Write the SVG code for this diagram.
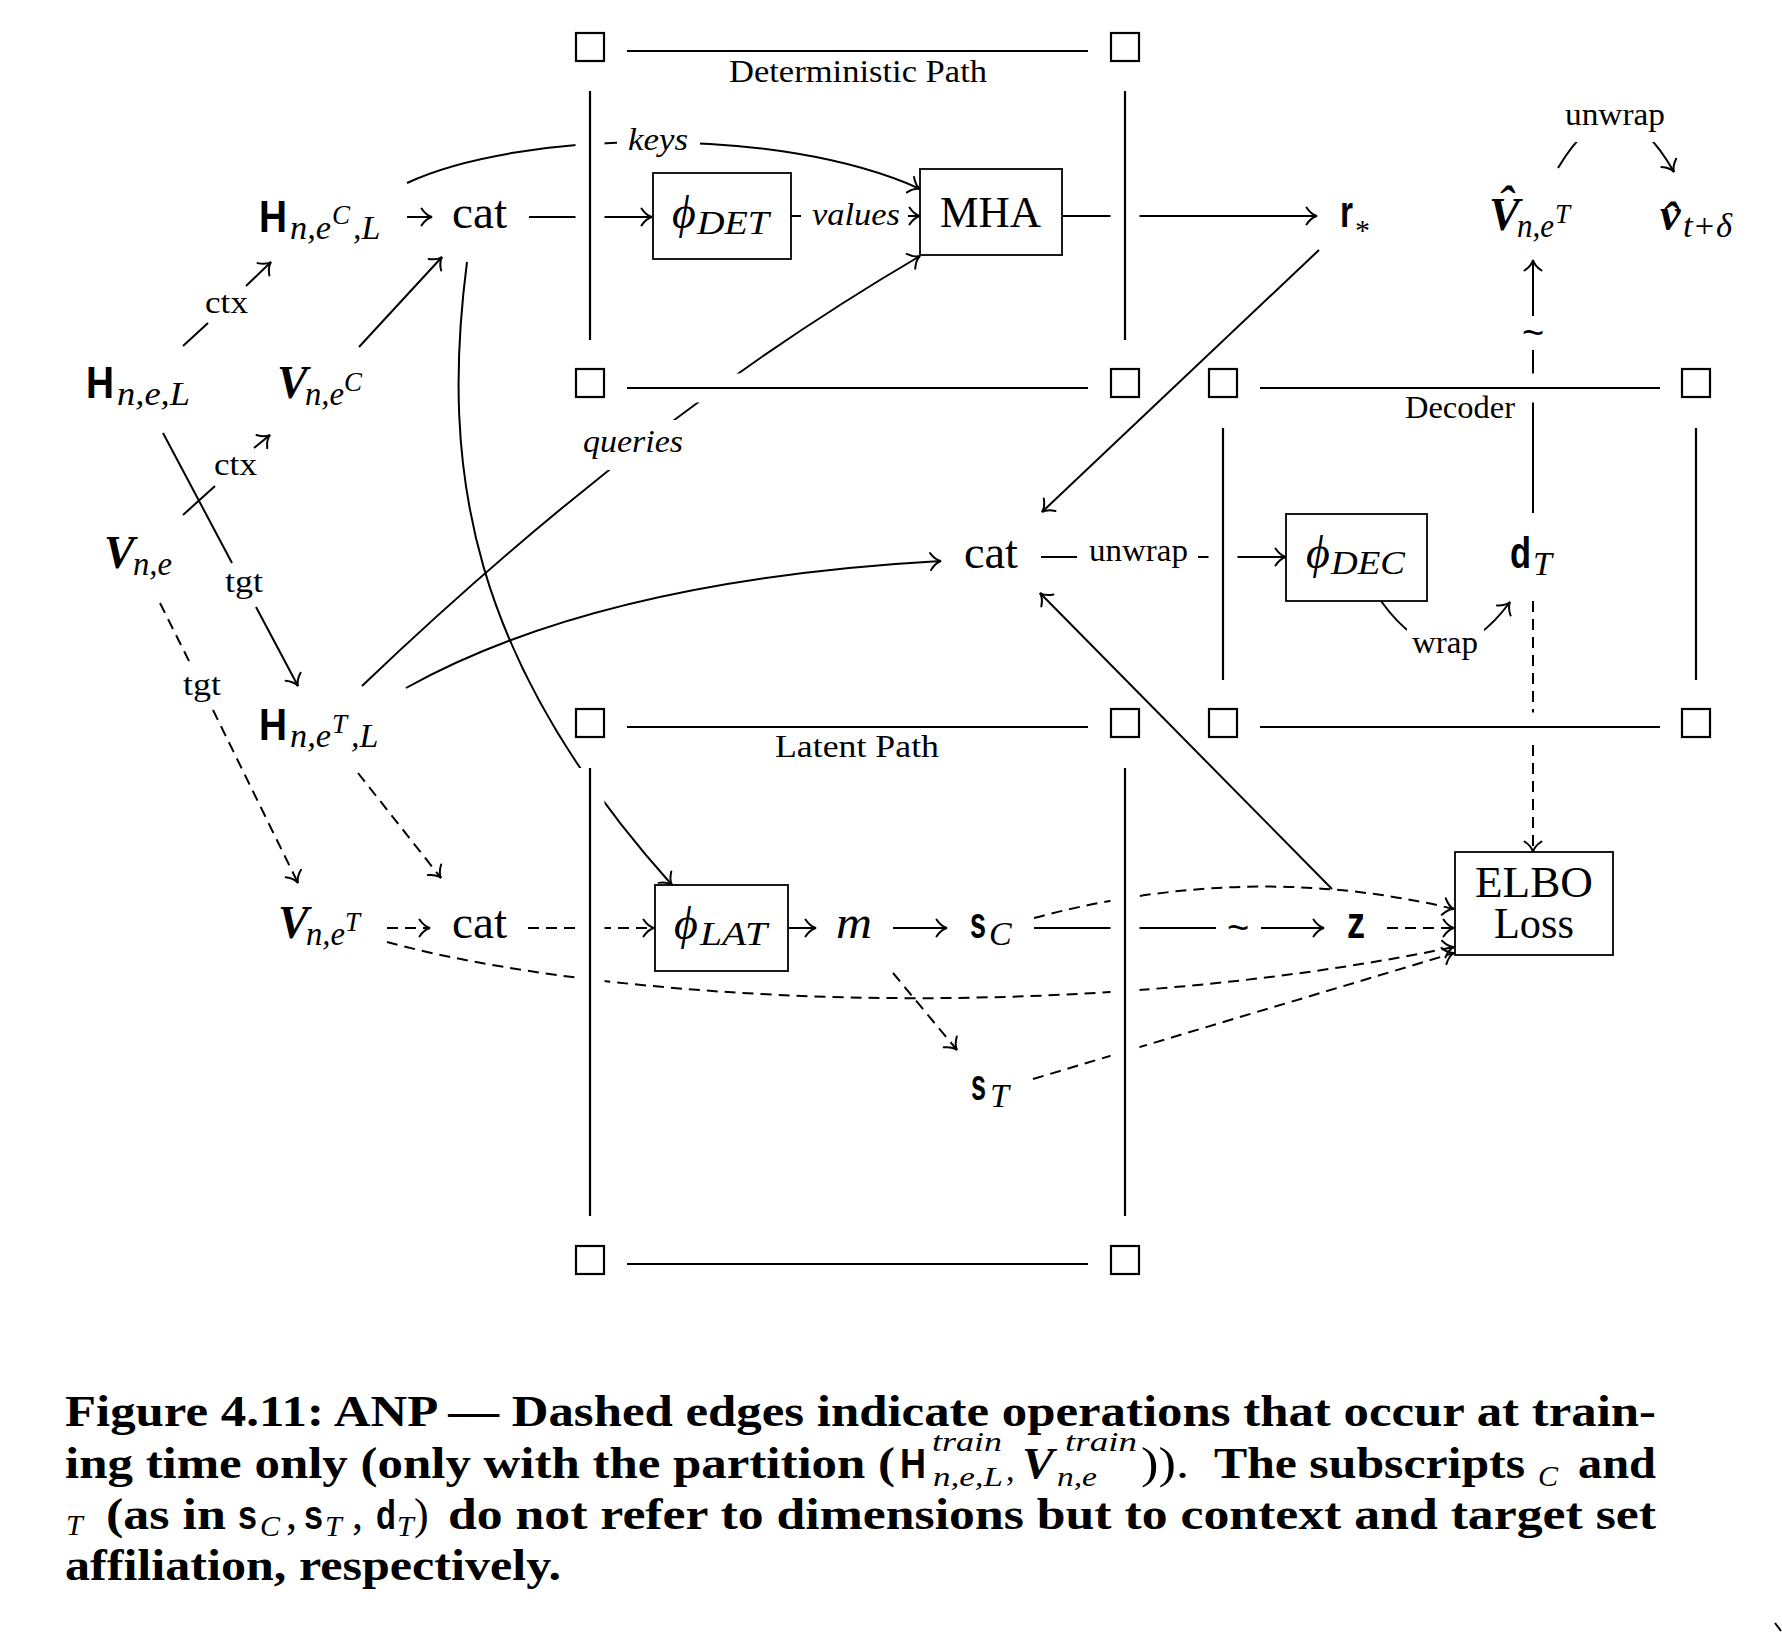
<svg xmlns="http://www.w3.org/2000/svg" width="1782" height="1632" viewBox="0 0 1782 1632">
<defs>
<style>
.e{fill:none;stroke:#000;stroke-width:2}
.d{stroke-dasharray:11 7}
.h{fill:none;stroke:#fff;stroke-width:29}
.pl{fill:none;stroke:#000;stroke-width:2.2}
.sq{fill:#fff;stroke:#000;stroke-width:2.2}
.bx{fill:#fff;stroke:#000;stroke-width:1.8}
.bg{fill:#fff;stroke:none}
text{font-family:'Liberation Serif','DejaVu Serif',serif;fill:#000}
.rm{font-size:46px}
.lb{font-size:32px}
.it{font-style:italic}
.bs{font-family:'Liberation Sans','DejaVu Sans',sans-serif;font-weight:bold;font-size:44px}
.bv{font-weight:bold;font-style:italic;font-size:46px}
.sb{font-style:italic;font-size:34px}
.sp{font-style:italic;font-size:27px}
.cap{font-weight:bold;font-size:44px}
.tl{font-family:'Liberation Sans',sans-serif;font-size:38px}
</style>
<marker id="a" viewBox="0 0 14 20" refX="12" refY="10" markerWidth="14" markerHeight="20" markerUnits="userSpaceOnUse" orient="auto"><path d="M1.5,1.5 C4.5,6 8,9 12,10 C8,11 4.5,14 1.5,18.5" fill="none" stroke="#000" stroke-width="2" stroke-dasharray="none" stroke-linecap="round"/></marker>
</defs>
<rect width="1782" height="1632" fill="#fff"/>

<g id="connectors">
<path class="e" d="M183,346 L208,323"/>
<path class="e" d="M246,286 L271,262" marker-end="url(#a)"/>
<path class="e" d="M183,515 L215,486"/>
<path class="e" d="M254,448 L270,435" marker-end="url(#a)"/>
<path class="e" d="M163,433 L232,563"/>
<path class="e" d="M256,607 L298,686" marker-end="url(#a)"/>
<path class="e d" d="M160,603 L192,667"/>
<path class="e d" d="M213,710 L298,883" marker-end="url(#a)"/>
<path class="e" d="M407,217 L432,217" marker-end="url(#a)"/>
<path class="e" d="M359,347 L442,257" marker-end="url(#a)"/>
<path class="e" d="M529,217 L652,217" marker-end="url(#a)"/>
<path class="e" d="M407,183 C520,130 780,125 920,189" marker-end="url(#a)"/>
<path class="e" d="M791,216 L801,216"/>
<path class="e" d="M908,216 L920,216" marker-end="url(#a)"/>
<path class="e" d="M362,686 Q640,420 920,256" marker-end="url(#a)"/>
<path class="e" d="M1063,216 L1317,216" marker-end="url(#a)"/>
<path class="e" d="M1319,250 L1042,512" marker-end="url(#a)"/>
<path class="e" d="M406,688 Q600,580 941,561" marker-end="url(#a)"/>
<path class="e" d="M467,262 C440,470 470,660 672,885" marker-end="url(#a)"/>
<path class="e" d="M1041,557 L1077,557"/>
<path class="e" d="M1198,557 L1286,557" marker-end="url(#a)"/>
<path class="e" d="M1381,601 Q1445,690 1510,602" marker-end="url(#a)"/>
<path class="e" d="M1533,513 L1533,350"/>
<path class="e" d="M1533,316 L1533,260" marker-end="url(#a)"/>
<path class="e" d="M1558,168 Q1616,70 1674,172" marker-end="url(#a)"/>
<path class="e d" d="M1533,601 L1533,852" marker-end="url(#a)"/>
<path class="e d" d="M358,773 L441,878" marker-end="url(#a)"/>
<path class="e d" d="M387,928 L430,928" marker-end="url(#a)"/>
<path class="e d" d="M528,928 L654,928" marker-end="url(#a)"/>
<path class="e" d="M788,928 L816,928" marker-end="url(#a)"/>
<path class="e" d="M893,928 L947,928" marker-end="url(#a)"/>
<path class="e d" d="M893,973 L957,1050" marker-end="url(#a)"/>
<path class="e" d="M1034,928 L1216,928"/>
<path class="e" d="M1261,928 L1324,928" marker-end="url(#a)"/>
<path class="e d" d="M1387,928 L1454,928" marker-end="url(#a)"/>
<path class="e d" d="M1034,918 Q1250,860 1454,909" marker-end="url(#a)"/>
<path class="e d" d="M387,942 C600,1000 1050,1030 1454,947" marker-end="url(#a)"/>
<path class="e d" d="M1033,1079 L1454,953" marker-end="url(#a)"/>
<path class="e" d="M1332,889 L1040,593" marker-end="url(#a)"/>
<rect class="bg" x="617" y="122" width="83" height="40"/>
<rect class="bg" x="583" y="420" width="103" height="50"/>
<rect class="bg" x="1407" y="628" width="77" height="40"/>
<rect class="bg" x="1565" y="92" width="100" height="50"/>
</g>

<g id="plate-det">
<path class="h" d="M590,91 V340 M1125,91 V340 M627,51 H1088 M627,388 H1088"/>
<path class="pl" d="M590,91 V340 M1125,91 V340 M627,51 H1088 M627,388 H1088"/>
<rect class="sq" x="576" y="33" width="28" height="28"/>
<rect class="sq" x="1111" y="33" width="28" height="28"/>
<rect class="sq" x="576" y="369" width="28" height="28"/>
<rect class="sq" x="1111" y="369" width="28" height="28"/>
<text class="lb" x="729" y="82" textLength="258" lengthAdjust="spacingAndGlyphs">Deterministic Path</text>
</g>
<g id="plate-lat">
<path class="h" d="M590,768 V1216 M1125,768 V1216 M627,727 H1088 M627,1264 H1088"/>
<path class="pl" d="M590,768 V1216 M1125,768 V1216 M627,727 H1088 M627,1264 H1088"/>
<rect class="sq" x="576" y="709" width="28" height="28"/>
<rect class="sq" x="1111" y="709" width="28" height="28"/>
<rect class="sq" x="576" y="1246" width="28" height="28"/>
<rect class="sq" x="1111" y="1246" width="28" height="28"/>
<text class="lb" x="775" y="757" textLength="164" lengthAdjust="spacingAndGlyphs">Latent Path</text>
</g>
<g id="plate-dec">
<path class="h" d="M1223,428 V680 M1696,428 V680 M1260,388 H1660 M1260,727 H1660"/>
<path class="pl" d="M1223,428 V680 M1696,428 V680 M1260,388 H1660 M1260,727 H1660"/>
<rect class="sq" x="1209" y="369" width="28" height="28"/>
<rect class="sq" x="1682" y="369" width="28" height="28"/>
<rect class="sq" x="1209" y="709" width="28" height="28"/>
<rect class="sq" x="1682" y="709" width="28" height="28"/>
<text class="lb" x="1405" y="418" textLength="110" lengthAdjust="spacingAndGlyphs">Decoder</text>
</g>

<g id="n-Hnel"><text class="bs" x="86" y="398" textLength="28" lengthAdjust="spacingAndGlyphs">H</text><text class="sb" x="117" y="405" textLength="73" lengthAdjust="spacingAndGlyphs">n,e,L</text></g>
<g id="n-Vne"><text class="bv" x="104" y="568">V</text><text class="sb" x="133" y="575" textLength="39" lengthAdjust="spacingAndGlyphs">n,e</text></g>
<g id="n-HneCL"><text class="bs" x="259" y="232" textLength="28" lengthAdjust="spacingAndGlyphs">H</text><text class="sb" x="290" y="239" textLength="41" lengthAdjust="spacingAndGlyphs">n,e</text><text class="sp" x="332" y="224">C</text><text class="sb" x="353" y="239">,L</text></g>
<g id="n-VneC"><text class="bv" x="277" y="398">V</text><text class="sb" x="305" y="405" textLength="39" lengthAdjust="spacingAndGlyphs">n,e</text><text class="sp" x="344" y="391">C</text></g>
<g id="n-HneTL"><text class="bs" x="259" y="740" textLength="28" lengthAdjust="spacingAndGlyphs">H</text><text class="sb" x="290" y="747" textLength="41" lengthAdjust="spacingAndGlyphs">n,e</text><text class="sp" x="332" y="733">T</text><text class="sb" x="351" y="747">,L</text></g>
<g id="n-VneT"><text class="bv" x="278" y="938">V</text><text class="sb" x="306" y="945" textLength="39" lengthAdjust="spacingAndGlyphs">n,e</text><text class="sp" x="345" y="931">T</text></g>
<g id="n-cat1"><text class="rm" x="452" y="228" textLength="55" lengthAdjust="spacingAndGlyphs">cat</text></g>
<g id="n-phidet"><rect class="bx" x="653" y="173" width="138" height="86"/><text class="rm it" x="672" y="228">ϕ</text><text class="sb" x="697" y="234" textLength="72" lengthAdjust="spacingAndGlyphs">DET</text></g>
<g id="n-mha"><rect class="bx" x="920" y="169" width="142" height="86"/><text class="rm" x="940" y="227" textLength="101" lengthAdjust="spacingAndGlyphs" style="font-size:44px">MHA</text></g>
<g id="n-rstar"><text class="bs" x="1340" y="227" textLength="13" lengthAdjust="spacingAndGlyphs">r</text><text x="1355" y="240" style="font-size:30px">*</text></g>
<g id="n-Vhat"><text class="bv"><tspan x="1489" y="230">V</tspan><tspan x="1498" y="218">ˆ</tspan></text><text class="sb" x="1517" y="237" textLength="37" lengthAdjust="spacingAndGlyphs">n,e</text><text class="sp" x="1555" y="223">T</text></g>
<g id="n-vhat"><text class="bv"><tspan x="1660" y="230">v</tspan><tspan x="1662" y="234">ˆ</tspan></text><text class="sb" x="1683" y="237" textLength="49" lengthAdjust="spacingAndGlyphs">t+δ</text></g>
<g id="n-cat2"><text class="rm" x="964" y="568" textLength="54" lengthAdjust="spacingAndGlyphs">cat</text></g>
<g id="n-phidec"><rect class="bx" x="1286" y="514" width="141" height="87"/><text class="rm it" x="1306" y="568">ϕ</text><text class="sb" x="1331" y="574" textLength="74" lengthAdjust="spacingAndGlyphs">DEC</text></g>
<g id="n-dT"><text class="bs" x="1510" y="568" textLength="21" lengthAdjust="spacingAndGlyphs">d</text><text class="sb" x="1533" y="575">T</text></g>
<g id="n-cat3"><text class="rm" x="452" y="938" textLength="55" lengthAdjust="spacingAndGlyphs">cat</text></g>
<g id="n-philat"><rect class="bx" x="655" y="885" width="133" height="86"/><text class="rm it" x="674" y="939">ϕ</text><text class="sb" x="700" y="945" textLength="67" lengthAdjust="spacingAndGlyphs">LAT</text></g>
<g id="n-m"><text class="rm it" x="836" y="938" textLength="36" lengthAdjust="spacingAndGlyphs">m</text></g>
<g id="n-sC"><text class="bs" x="970" y="938" textLength="16" lengthAdjust="spacingAndGlyphs">s</text><text class="sb" x="989" y="945">C</text></g>
<g id="n-z"><text class="bs" x="1347" y="938" textLength="18" lengthAdjust="spacingAndGlyphs">z</text></g>
<g id="n-elbo"><rect class="bx" x="1455" y="852" width="158" height="103"/><text class="rm" x="1475" y="897" textLength="118" lengthAdjust="spacingAndGlyphs" style="font-size:45px">ELBO</text><text class="rm" x="1494" y="938" textLength="80" lengthAdjust="spacingAndGlyphs" style="font-size:45px">Loss</text></g>
<g id="n-sT"><text class="bs" x="971" y="1100" textLength="15" lengthAdjust="spacingAndGlyphs">s</text><text class="sb" x="990" y="1107">T</text></g>

<g id="edge-labels">
<text class="lb" x="205" y="313" textLength="43" lengthAdjust="spacingAndGlyphs">ctx</text>
<text class="lb" x="214" y="475" textLength="43" lengthAdjust="spacingAndGlyphs">ctx</text>
<text class="lb" x="225" y="592" textLength="38" lengthAdjust="spacingAndGlyphs">tgt</text>
<text class="lb" x="183" y="695" textLength="38" lengthAdjust="spacingAndGlyphs">tgt</text>
<text class="lb it" x="628" y="150" textLength="60" lengthAdjust="spacingAndGlyphs">keys</text>
<text class="lb it" x="812" y="225" textLength="88" lengthAdjust="spacingAndGlyphs">values</text>
<text class="lb it" x="583" y="452" textLength="100" lengthAdjust="spacingAndGlyphs">queries</text>
<text class="lb" x="1089" y="561" textLength="99" lengthAdjust="spacingAndGlyphs">unwrap</text>
<text class="lb" x="1412" y="653" textLength="66" lengthAdjust="spacingAndGlyphs">wrap</text>
<text class="lb" x="1565" y="125" textLength="100" lengthAdjust="spacingAndGlyphs">unwrap</text>
<text class="tl" x="1533" y="346" text-anchor="middle">~</text>
<text class="tl" x="1238" y="941" text-anchor="middle">~</text>
</g>

<g id="caption">
<text class="cap" x="65" y="1426" textLength="1591" lengthAdjust="spacingAndGlyphs">Figure 4.11: ANP — Dashed edges indicate operations that occur at train-</text>
<text class="cap" x="65" y="1478" textLength="830" lengthAdjust="spacingAndGlyphs">ing time only (only with the partition (</text>
<text class="bs" x="900" y="1478" textLength="26" lengthAdjust="spacingAndGlyphs" style="font-size:42px">H</text>
<text class="sp" x="932" y="1451" textLength="70" lengthAdjust="spacingAndGlyphs" style="font-size:28px">train</text>
<text class="sp" x="933" y="1486" textLength="70" lengthAdjust="spacingAndGlyphs" style="font-size:28px">n,e,L</text>
<text x="1006" y="1481" style="font-size:34px">,</text>
<text class="bv" x="1022" y="1478" textLength="32" lengthAdjust="spacingAndGlyphs" style="font-size:44px">V</text>
<text class="sp" x="1065" y="1451" textLength="72" lengthAdjust="spacingAndGlyphs" style="font-size:28px">train</text>
<text class="sp" x="1057" y="1486" textLength="40" lengthAdjust="spacingAndGlyphs" style="font-size:28px">n,e</text>
<text class="cap" x="1141" y="1478" textLength="48" lengthAdjust="spacingAndGlyphs" style="font-weight:normal">)).</text>
<text class="cap" x="1214" y="1478" textLength="311" lengthAdjust="spacingAndGlyphs">The subscripts</text>
<text class="sp" x="1538" y="1486" style="font-size:30px">C</text>
<text class="cap" x="1578" y="1478" textLength="78" lengthAdjust="spacingAndGlyphs">and</text>
<text class="sp" x="66" y="1535" style="font-size:30px">T</text>
<text class="cap" x="106" y="1529" textLength="120" lengthAdjust="spacingAndGlyphs">(as in</text>
<text class="bs" x="238" y="1529" textLength="19" lengthAdjust="spacingAndGlyphs" style="font-size:40px">s</text>
<text class="sp" x="260" y="1536" style="font-size:30px">C</text>
<text class="cap" x="286" y="1529" style="font-weight:normal">,</text>
<text class="bs" x="304" y="1529" textLength="19" lengthAdjust="spacingAndGlyphs" style="font-size:40px">s</text>
<text class="sp" x="325" y="1536" style="font-size:30px">T</text>
<text class="cap" x="352" y="1529" style="font-weight:normal">,</text>
<text class="bs" x="376" y="1529" textLength="20" lengthAdjust="spacingAndGlyphs" style="font-size:40px">d</text>
<text class="sp" x="397" y="1536" style="font-size:30px">T</text>
<text class="cap" x="414" y="1529" style="font-weight:normal">)</text>
<text class="cap" x="448" y="1529" textLength="1208" lengthAdjust="spacingAndGlyphs">do not refer to dimensions but to context and target set</text>
<text class="cap" x="65" y="1580" textLength="496" lengthAdjust="spacingAndGlyphs">affiliation, respectively.</text>
</g>
<path class="e" d="M1775,1623 L1781,1631"/>
</svg>
